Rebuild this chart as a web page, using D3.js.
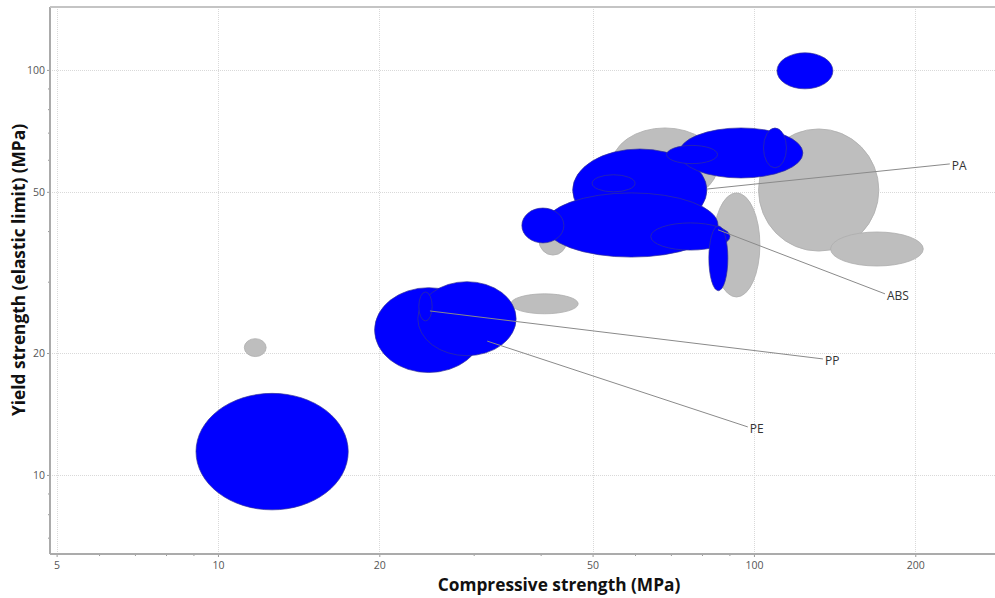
<!DOCTYPE html>
<html>
<head>
<meta charset="utf-8">
<script src="https://cdn.jsdelivr.net/npm/d3@7"></script>
<style>
  html, body { margin: 0; padding: 0; background: #fff; }
  svg { display: block; font-family: "Open Sans", "Noto Sans", sans-serif; }
</style>
</head>
<body>
<svg id="chart" width="995" height="598"></svg>
<script>
// Property ranges (MPa) for each material bubble, in drawing order.
const family   = ["other","other","other","other","other","other","other",
                  "PE","PE","PP","PP","PA","PA","PA","PA","PA","PA","ABS","ABS","ABS","ABS"];
const highlighted = [false,false,false,false,false,false,false,
                  true,true,true,true,true,true,true,true,true,true,true,true,true,true];
const compLo   = [11.2, 35.2, 39.7, 54.3,  83.9, 102, 139,  9.1, 19.6, 23.6, 23.7, 45.9, 49.9,  72.5, 68.7, 104.2, 110.4, 40.7, 36.9, 64.2, 82.4];
const compHi   = [12.3, 47.0, 44.8, 85.7, 102.6, 171, 207, 17.5, 31.2, 36.0, 25.1, 81.7, 60.0, 123.4, 85.5, 115.0, 140.4, 85.7, 44.2, 90.2, 89.4];
const yieldLo  = [19.6, 25.0, 34.9, 47.2,  27.5, 35.7, 32.8,  8.2, 17.9, 19.7, 24.0, 40.0, 50.0,  54.1, 58.7,  57.3,  89.8, 34.5, 37.4, 35.9, 28.5];
const yieldHi  = [21.7, 28.0, 41.4, 71.9,  49.7, 71.5, 39.8, 15.9, 29.0, 30.0, 28.3, 63.8, 55.1,  71.9, 65.1,  71.9, 110.2, 49.7, 45.6, 41.9, 41.2];

// Family labels: point on the bubble and where the text sits (MPa, MPa).
const labelText   = ["PA", "ABS", "PP", "PE"];
const labelFromX  = [81.7, 85.7, 24.86, 31.8];
const labelFromY  = [50.8, 40.3, 25.4, 21.4];
const labelToX    = [232, 175.6, 134.5, 97.4];
const labelToY    = [58.6, 28.0, 19.34, 13.14];

// Axis ticks
const xMajor = [5, 10, 20, 50, 100, 200];
const yMajor = [10, 20, 50, 100];
const xTitle = "Compressive strength (MPa)";
const yTitle = "Yield strength (elastic limit) (MPa)";

const plotLeft = 50, plotRight = 995, plotTop = 7, plotBottom = 554;

const x = d3.scaleLog().domain([4.86, 281.7]).range([plotLeft, plotRight]);
const y = d3.scaleLog().domain([6.38, 143]).range([plotBottom, plotTop]);

const svg = d3.select("#chart");

// grid
const grid = svg.append("g").attr("stroke", "#d9d9d9").attr("stroke-width", 1).attr("stroke-dasharray", "1,1");
grid.selectAll("line.gx").data(xMajor).join("line")
  .attr("x1", d => Math.round(x(d)) + 0.5).attr("x2", d => Math.round(x(d)) + 0.5)
  .attr("y1", plotTop).attr("y2", plotBottom);
grid.selectAll("line.gy").data(yMajor).join("line")
  .attr("y1", d => Math.round(y(d)) + 0.5).attr("y2", d => Math.round(y(d)) + 0.5)
  .attr("x1", plotLeft).attr("x2", plotRight);

// bubbles
const idx = d3.range(compLo.length);
svg.append("g").selectAll("ellipse").data(idx).join("ellipse")
  .attr("cx", i => (x(compLo[i]) + x(compHi[i])) / 2)
  .attr("cy", i => (y(yieldLo[i]) + y(yieldHi[i])) / 2)
  .attr("rx", i => (x(compHi[i]) - x(compLo[i])) / 2)
  .attr("ry", i => (y(yieldLo[i]) - y(yieldHi[i])) / 2)
  .attr("fill", i => highlighted[i] ? "#0000ff" : "#bebebe")
  .attr("stroke", i => highlighted[i] ? "rgba(50,50,150,0.85)" : "#adadad")
  .attr("stroke-width", 0.8);

// axes
const fmt = d3.format("d");
const xMinor = x.ticks().filter(d => !xMajor.includes(d));
const yMinor = y.ticks().filter(d => !yMajor.includes(d));

const gx = svg.append("g").attr("transform", `translate(0,${plotBottom})`)
  .call(d3.axisBottom(x).tickValues(xMajor).tickFormat(fmt).tickSize(3).tickPadding(5));
const gxm = svg.append("g").attr("transform", `translate(0,${plotBottom})`)
  .call(d3.axisBottom(x).tickValues(xMinor).tickFormat("").tickSize(2));
const gy = svg.append("g").attr("transform", `translate(${plotLeft},0)`)
  .call(d3.axisLeft(y).tickValues(yMajor).tickFormat(fmt).tickSize(3).tickPadding(2));
const gym = svg.append("g").attr("transform", `translate(${plotLeft},0)`)
  .call(d3.axisLeft(y).tickValues(yMinor).tickFormat("").tickSize(2));

[gx, gxm, gy, gym].forEach(g => {
  g.selectAll(".domain").remove();
  g.selectAll(".tick line").attr("stroke", "#9a9a9a");
  g.selectAll(".tick text").attr("fill", "#555").attr("font-size", 10.5)
    .attr("font-family", "'Open Sans', sans-serif");
});

// frame lines
const frame = svg.append("g").attr("stroke", "#ababab").attr("stroke-width", 2).attr("fill", "none");
frame.append("line").attr("x1", plotLeft).attr("x2", plotRight).attr("y1", plotBottom).attr("y2", plotBottom);
frame.append("line").attr("x1", plotLeft).attr("x2", plotLeft).attr("y1", plotTop).attr("y2", plotBottom);
frame.append("line").attr("x1", plotLeft).attr("x2", plotRight).attr("y1", plotTop).attr("y2", plotTop).attr("stroke", "#c4c4c4");

// labels with leader lines
const li = d3.range(labelText.length);
svg.append("g").selectAll("line").data(li).join("line")
  .attr("x1", i => x(labelFromX[i])).attr("y1", i => y(labelFromY[i]))
  .attr("x2", i => x(labelToX[i])).attr("y2", i => y(labelToY[i]))
  .attr("stroke", "#8a8a8a").attr("stroke-width", 1);
svg.append("g").selectAll("text").data(li).join("text")
  .attr("x", i => x(labelToX[i]) + 2)
  .attr("y", i => y(labelToY[i]) + 2)
  .attr("dy", "0.35em")
  .attr("font-size", 12)
  .attr("fill", "#333")
  .text(i => labelText[i]);

// axis titles
svg.append("text").attr("x", 559).attr("y", 591)
  .attr("text-anchor", "middle").attr("font-size", 17.3).attr("font-weight", "bold")
  .attr("fill", "#111").text(xTitle);
svg.append("text").attr("transform", "translate(25,270) rotate(-90)")
  .attr("text-anchor", "middle").attr("font-size", 17.3).attr("font-weight", "bold")
  .attr("fill", "#111").text(yTitle);
</script>
</body>
</html>
